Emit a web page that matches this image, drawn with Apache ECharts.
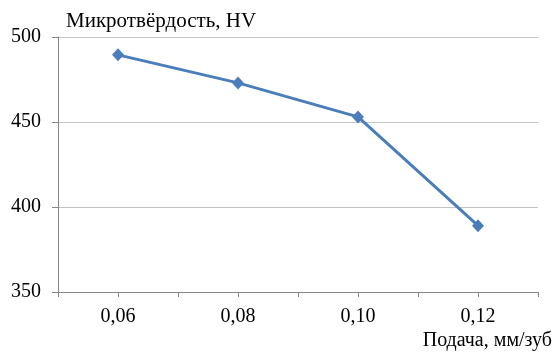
<!DOCTYPE html>
<html>
<head>
<meta charset="utf-8">
<script src="https://cdn.jsdelivr.net/npm/echarts@6/dist/echarts.min.js"></script>
<style>
  html, body { margin: 0; padding: 0; background: #fff; }
  #chart { width: 557px; height: 353px; }
</style>
</head>
<body>
<div id="chart"></div>
<script>
// Подача (мм/зуб) и микротвёрдость (HV)
const feed = [0.06, 0.08, 0.10, 0.12];
const hardness = [489.5, 473, 453, 389];
const yTicks = [350, 400, 450, 500];
const xTickLabels = ['0,06', '0,08', '0,10', '0,12'];

const yTitle = 'Микротвёрдость, HV';
const xTitle = 'Подача, мм/зуб';

const FONT = '"Liberation Serif", "Times New Roman", serif';
const AXIS_GRAY = '#868686';
const GRID_GRAY = '#c4c4c4';
const BLUE = '#4a7ebb';

const chart = echarts.init(document.getElementById('chart'), null, { renderer: 'canvas' });

chart.setOption({
  animation: false,
  backgroundColor: '#ffffff',
  title: [
    { text: yTitle, left: 61, top: 6,
      textStyle: { fontFamily: FONT, fontSize: 21, fontWeight: 'normal', color: '#000' } },
    { text: xTitle, right: 0, top: 326,
      textStyle: { fontFamily: FONT, fontSize: 20, fontWeight: 'normal', color: '#000' } }
  ],
  grid: { left: 58, right: 19, top: 37, bottom: 61, containLabel: false },
  xAxis: {
    type: 'value',
    min: 0.05, max: 0.13, interval: 0.01,
    axisLine: { show: true, lineStyle: { color: AXIS_GRAY, width: 1 } },
    axisTick: { show: true, inside: false, length: 5, lineStyle: { color: AXIS_GRAY } },
    splitLine: { show: false },
    axisLabel: {
      margin: 15,
      fontFamily: FONT, fontSize: 20, color: '#000',
      formatter: function (v) {
        const idx = feed.findIndex(f => Math.abs(f - v) < 1e-9);
        return idx >= 0 ? xTickLabels[idx] : '';
      }
    }
  },
  yAxis: {
    type: 'value',
    min: yTicks[0], max: yTicks[yTicks.length - 1], interval: 50,
    axisLine: { show: true, lineStyle: { color: AXIS_GRAY, width: 1 } },
    axisTick: { show: true, inside: false, length: 6, lineStyle: { color: AXIS_GRAY } },
    splitLine: { show: true, lineStyle: { color: GRID_GRAY, width: 1 } },
    axisLabel: { margin: 17, fontFamily: FONT, fontSize: 20, color: '#000' }
  },
  series: [{
    type: 'line',
    data: feed.map((f, i) => [f, hardness[i]]),
    symbol: 'diamond',
    symbolSize: [12, 13],
    lineStyle: { color: BLUE, width: 3 },
    itemStyle: { color: BLUE }
  }]
});
</script>
</body>
</html>
